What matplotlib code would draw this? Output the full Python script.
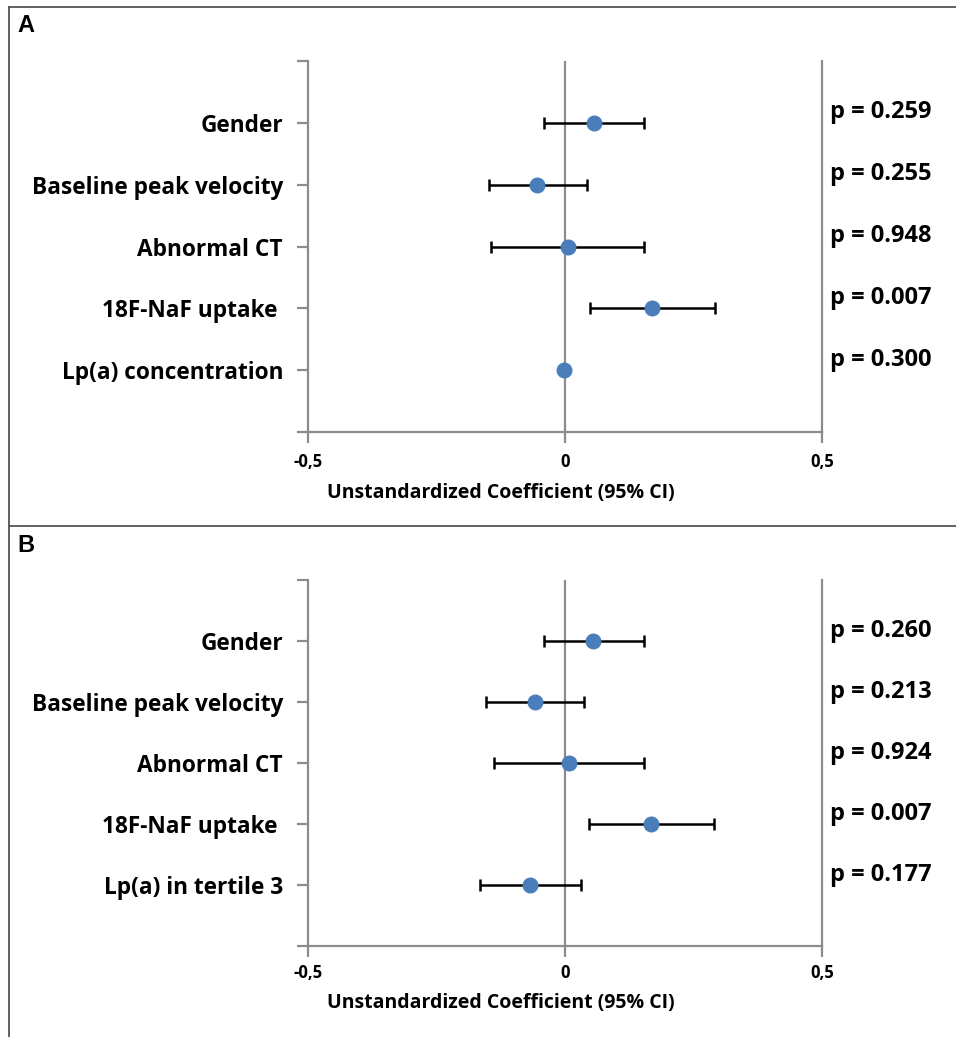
import matplotlib
matplotlib.use("Agg")
import matplotlib.pyplot as plt
from matplotlib.lines import Line2D

plt.rcParams['font.family'] = ['Open Sans', 'DejaVu Sans']

# ---------------- data ----------------
labels_a = ["Gender", "Baseline peak velocity", "Abnormal CT", "18F-NaF uptake ", "Lp(a) concentration"]
coef_a = [0.057, -0.055, 0.006, 0.169, -0.001]
lo_a = [-0.041, -0.147, -0.143, 0.048, -0.003]
hi_a = [0.154, 0.042, 0.154, 0.292, 0.001]
p_a = ["p = 0.259", "p = 0.255", "p = 0.948", "p = 0.007", "p = 0.300"]

labels_b = ["Gender", "Baseline peak velocity", "Abnormal CT", "18F-NaF uptake ", "Lp(a) in tertile 3"]
coef_b = [0.055, -0.059, 0.007, 0.167, -0.068]
lo_b = [-0.041, -0.153, -0.139, 0.047, -0.165]
hi_b = [0.154, 0.037, 0.154, 0.289, 0.032]
p_b = ["p = 0.260", "p = 0.213", "p = 0.924", "p = 0.007", "p = 0.177"]

xticks = [-0.5, 0, 0.5]
xticklabels = ["-0,5", "0", "0,5"]
xlabel = "Unstandardized Coefficient (95% CI)"

W, H = 956, 1037
fig = plt.figure(figsize=(W / 100, H / 100), dpi=100)

GRAY = "#8c8c8c"
BLUE = "#4a7ebb"


def px_rect(left, top, right, bottom):
    return [left / W, 1 - bottom / H, (right - left) / W, (bottom - top) / H]


def panel(rect, labels, coef, lo, hi, pvals, letter, letter_y, label_y, tick_y):
    ax = fig.add_axes(px_rect(*rect))
    n = len(labels)
    ys = list(range(n, 0, -1))
    xerr = [[c - l for c, l in zip(coef, lo)], [h - c for c, h in zip(coef, hi)]]
    ax.axvline(0, color=GRAY, lw=1.6, zorder=1)
    ax.axvline(0.5, color=GRAY, lw=1.6, zorder=1, clip_on=False)
    ax.errorbar(coef, ys, xerr=xerr, fmt='none', ecolor='black', elinewidth=1.8,
                capsize=4, capthick=1.8, zorder=2)
    ax.plot(coef, ys, 'o', color=BLUE, markersize=10.5, zorder=3, linestyle='none')
    ax.set_xlim(-0.5, 0.5)
    ax.set_ylim(0, n + 1)
    ax.set_yticks(range(0, n + 2))
    ax.set_yticklabels([""] + labels[::-1] + [""], fontsize=16.3, fontweight='bold')
    ax.set_xticks(xticks)
    ax.set_xticklabels([])
    for s in ['top', 'right']:
        ax.spines[s].set_visible(False)
    for s in ['left', 'bottom']:
        ax.spines[s].set_color(GRAY)
        ax.spines[s].set_linewidth(1.6)
    ax.tick_params(axis='y', length=8, width=1.6, color=GRAY, pad=10)
    ax.tick_params(axis='x', length=8, width=1.6, color=GRAY)
    for xv, lab in zip(xticks, xticklabels):
        xpix = rect[0] + (xv + 0.5) * (rect[2] - rect[0])
        fig.text(xpix / W, 1 - tick_y / H, lab, ha='center', va='center',
                 fontsize=12, fontweight='bold')
    for y, p in zip(ys, pvals):
        ax.text(1.016, y + 0.17, p, transform=ax.get_yaxis_transform(),
                ha='left', va='center', fontsize=17, fontweight='bold')
    fig.text(501 / W, 1 - label_y / H, xlabel, ha='center', va='center',
             fontsize=14, fontweight='bold')
    fig.text(17 / W, 1 - letter_y / H, letter, ha='left', va='center',
             fontsize=17, fontweight='bold', family='Liberation Sans')
    return ax


panel((308, 61, 822, 432), labels_a, coef_a, lo_a, hi_a, p_a, "A", 26, 493, 462)
panel((308, 580, 822, 946), labels_b, coef_b, lo_b, hi_b, p_b, "B", 545, 1003, 973)

BORDER = "#555555"
fig.add_artist(Line2D([9 / W, 9 / W], [0, 1 - 7 / H], transform=fig.transFigure, color=BORDER, lw=1.3))
fig.add_artist(Line2D([9 / W, 1], [1 - 7 / H, 1 - 7 / H], transform=fig.transFigure, color=BORDER, lw=1.3))
fig.add_artist(Line2D([9 / W, 1], [1 - 526 / H, 1 - 526 / H], transform=fig.transFigure, color=BORDER, lw=1.3))

fig.savefig("out.png", dpi=100, facecolor="white")
